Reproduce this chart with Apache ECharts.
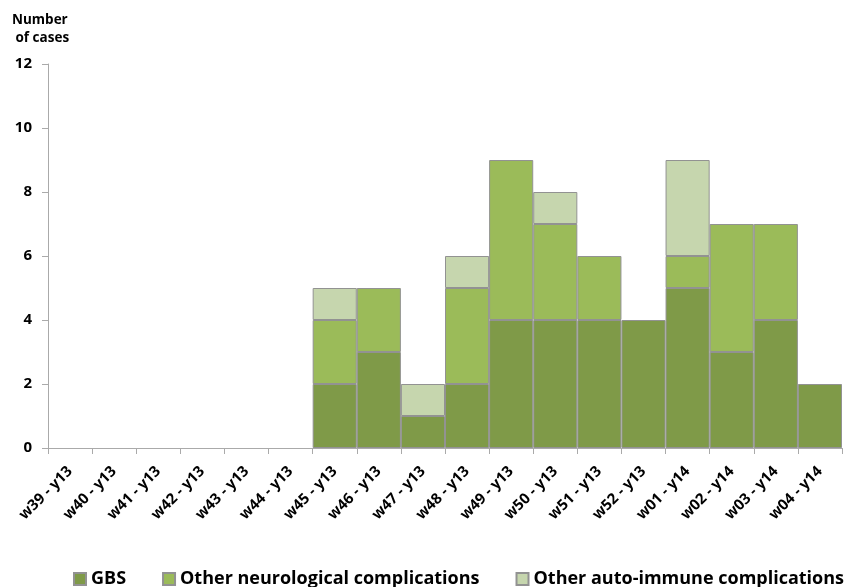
<!DOCTYPE html>
<html>
<head>
    <meta charset="utf-8"/>
    <title>Cases by week</title>
    <script src="https://cdn.jsdelivr.net/npm/echarts@6/dist/echarts.min.js"></script>
    <style>
        html, body { margin: 0; padding: 0; background: #fff; }
        #main { width: 854px; height: 587px; }
    </style>
</head>
<body>
<div id="main"></div>
<script>
var weeks = ['w39 - y13','w40 - y13','w41 - y13','w42 - y13','w43 - y13','w44 - y13',
    'w45 - y13','w46 - y13','w47 - y13','w48 - y13','w49 - y13','w50 - y13',
    'w51 - y13','w52 - y13','w01 - y14','w02 - y14','w03 - y14','w04 - y14'];
var gbs        = [0,0,0,0,0,0, 2,3,1,2,4,4, 4,4,5,3,4,2];
var otherNeuro = [0,0,0,0,0,0, 2,2,0,3,5,3, 2,0,1,4,3,0];
var autoImmune = [0,0,0,0,0,0, 1,0,1,1,0,1, 0,0,3,0,0,0];

var font = 'Open Sans';
var chart = echarts.init(document.getElementById('main'));

function bar(name, data, color) {
    return {
        name: name,
        type: 'bar',
        stack: 'cases',
        // empty cells are left out so no zero-height outline is drawn
        data: data.map(function (v) { return v === 0 ? '-' : v; }),
        barWidth: '100%',
        barGap: '0%',
        itemStyle: { color: color, borderColor: '#929292', borderWidth: 1 }
    };
}

chart.setOption({
    animation: false,
    textStyle: { fontFamily: font },
    grid: { left: 48, right: 12, top: 64, bottom: 139 },
    title: {
        text: 'Number\n of cases',
        left: 7, top: 6,
        textStyle: { fontSize: 13.5, fontWeight: 'bold', color: '#000', lineHeight: 18, fontFamily: font }
    },
    legend: {
        top: 565, left: 68,
        itemWidth: 12, itemHeight: 12, itemGap: 36,
        icon: 'rect',
        textStyle: { fontSize: 18, fontWeight: 'bold', color: '#000', fontFamily: font },
        data: ['GBS', 'Other neurological complications', 'Other auto-immune complications']
    },
    xAxis: {
        type: 'category',
        data: weeks,
        axisLine: { lineStyle: { color: '#aaa' } },
        axisTick: { show: true, alignWithLabel: false, length: 6, lineStyle: { color: '#aaa' } },
        axisLabel: { rotate: 45, interval: 0, fontSize: 15, fontWeight: 'bold', color: '#000', margin: 21 }
    },
    yAxis: {
        type: 'value',
        min: 0, max: 12, interval: 2,
        axisLine: { show: true, lineStyle: { color: '#aaa' } },
        axisTick: { show: true, length: 6, lineStyle: { color: '#aaa' } },
        splitLine: { show: false },
        axisLabel: { fontSize: 15, fontWeight: 'bold', color: '#000', margin: 16 }
    },
    series: [
        bar('GBS', gbs, '#7f9a48'),
        bar('Other neurological complications', otherNeuro, '#9bbb59'),
        bar('Other auto-immune complications', autoImmune, '#c6d6ae')
    ]
});
</script>
</body>
</html>
